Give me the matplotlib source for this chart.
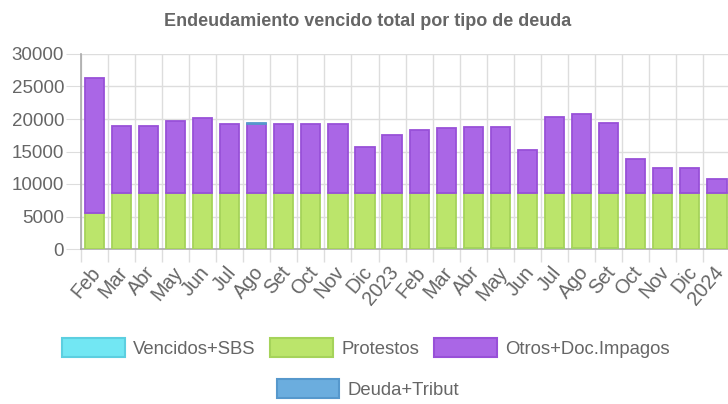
import matplotlib.pyplot as plt
import matplotlib.patches as mpatches
import matplotlib.transforms as mtransforms
from matplotlib.ticker import FixedLocator
import numpy as np

plt.rcParams['font.family'] = ['Liberation Sans', 'DejaVu Sans']

# data
months = ['Feb', 'Mar', 'Abr', 'May', 'Jun', 'Jul', 'Ago', 'Set', 'Oct', 'Nov', 'Dic', '2023',
          'Feb', 'Mar', 'Abr', 'May', 'Jun', 'Jul', 'Ago', 'Set', 'Oct', 'Nov', 'Dic', '2024']
vencidos_sbs = [0, 0, 0, 0, 0, 0, 0, 0, 0, 0, 0, 0,
                0, 100, 100, 100, 100, 100, 100, 100, 0, 0, 0, 0]
protestos = [5600, 8550, 8550, 8550, 8550, 8550, 8550, 8550, 8550, 8550, 8550, 8550,
             8550, 8570, 8570, 8570, 8570, 8570, 8570, 8570, 8550, 8550, 8550, 8550]
otros_doc = [20750, 10370, 10370, 11190, 11550, 10680, 10750, 10680, 10680, 10680, 7140, 8990,
             9760, 9950, 10100, 10100, 6510, 11590, 12100, 10660, 5250, 3860, 3960, 2220]
deuda_tribut = [0, 0, 0, 0, 0, 0, 60, 0, 0, 0, 0, 0,
                0, 0, 0, 0, 0, 0, 0, 0, 0, 0, 0, 0]

series = [
    ('Vencidos+SBS', vencidos_sbs, '#72e7f3', '#5ccfe0'),
    ('Protestos', protestos, '#bbe56b', '#a5d35a'),
    ('Otros+Doc.Impagos', otros_doc, '#aa66e6', '#9850d8'),
    ('Deuda+Tribut', deuda_tribut, '#6badde', '#5698cc'),
]

fig = plt.figure(figsize=(7.28, 4.04), dpi=100)
ax = fig.add_axes([80.7 / 728, 155 / 404, 649.8 / 728, 195 / 404])

x = np.arange(len(months))
bottom = np.zeros(len(months))
for name, vals, face, edge in series:
    vals = np.array(vals, dtype=float)
    keep = vals > 0
    ax.bar(x[keep], vals[keep], width=0.71, bottom=bottom[keep], color=face, edgecolor=edge,
           linewidth=1.3, zorder=3)
    bottom += vals

ax.set_xlim(-0.5, len(months) - 0.5)
ax.set_ylim(0, 30000)
ax.set_yticks(range(0, 30001, 5000))

ax.set_xticks(x)
ax.set_xticklabels(months, rotation=50, ha='right', va='top', rotation_mode='anchor')
ax.xaxis.set_minor_locator(FixedLocator(np.arange(-0.5, len(months), 1)))
ax.tick_params(axis='x', which='major', length=0, pad=10, labelsize=14.2, colors='#666666')
ax.tick_params(axis='x', which='minor', length=9.5, color='#dddddd', width=1)
ax.tick_params(axis='y', length=11, color='#dddddd', labelsize=13.5, colors='#666666', pad=1)
ax.grid(True, axis='y', color='#dddddd', lw=1, zorder=0)
ax.grid(True, axis='x', which='minor', color='#dddddd', lw=1, zorder=0)

# nudge the rotated month labels a little to the left so the last one fits
shift = mtransforms.ScaledTranslation(-4 / 100, 0, fig.dpi_scale_trans)
for lbl in ax.get_xticklabels():
    lbl.set_transform(lbl.get_transform() + shift)

for s in ['top', 'right']:
    ax.spines[s].set_visible(False)
for s in ['left', 'bottom']:
    ax.spines[s].set_color('#aaaaaa')
    ax.spines[s].set_linewidth(1.2)

fig.text(368 / 728, 1 - 21 / 404, 'Endeudamiento vencido total por tipo de deuda',
         ha='center', va='center', fontsize=13, fontweight='bold', color='#666666')

handles = [mpatches.Patch(facecolor=f, edgecolor=e, lw=1.5, label=n) for n, _, f, e in series]
leg_kw = dict(frameon=False, fontsize=13.3, handlelength=3.4, handleheight=1.24,
              handletextpad=0.45, columnspacing=0.8, labelcolor='#666666', borderpad=0)
fig.legend(handles=handles[:3], loc='center', bbox_to_anchor=(366 / 728, 1 - 348 / 404), ncol=3, **leg_kw)
fig.legend(handles=handles[3:], loc='center', bbox_to_anchor=(368 / 728, 1 - 389 / 404), ncol=1, **leg_kw)

fig.savefig('out.png', dpi=100)
